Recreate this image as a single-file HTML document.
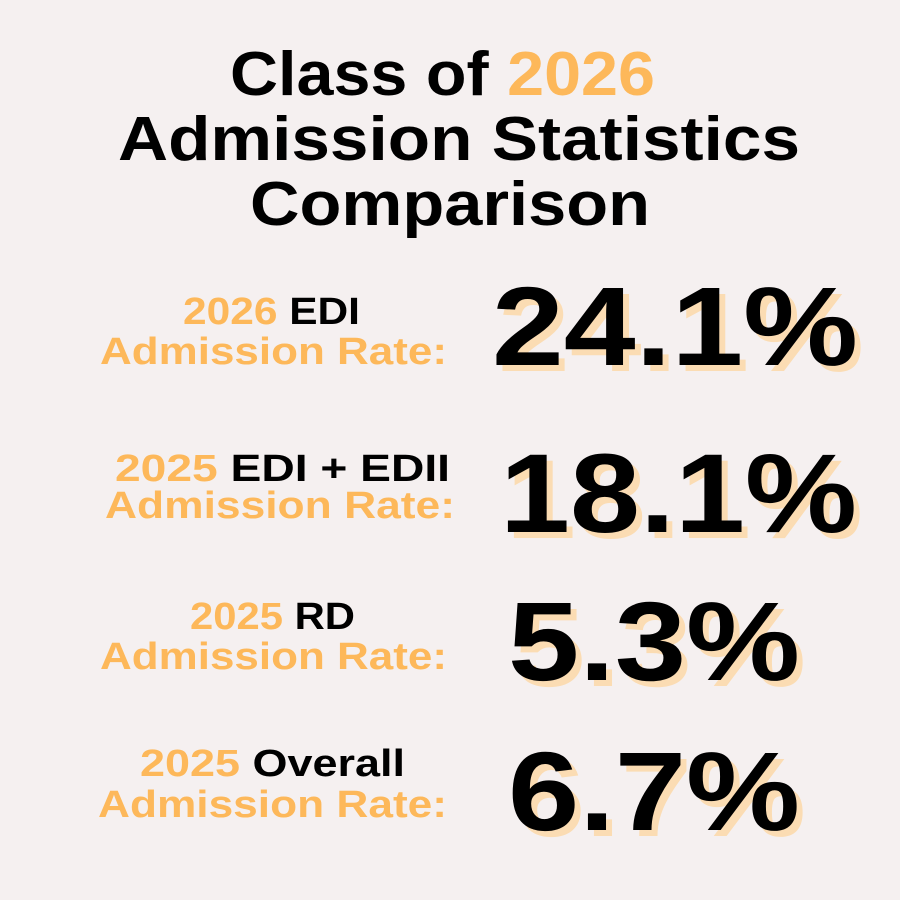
<!DOCTYPE html>
<html><head><meta charset="utf-8"><style>
html,body{margin:0;padding:0;background:#f5f0f0;}
svg{display:block;font-family:"Liberation Sans",sans-serif;font-weight:bold;}
.o{fill:#fdb85a}.k{fill:#000}.s{fill:#fbdcb3}
</style></head><body>
<svg width="900" height="900" viewBox="0 0 900 900">
<rect width="900" height="900" fill="#f5f0f0"/>
<g font-size="62">
<text x="230" y="95" textLength="425" lengthAdjust="spacingAndGlyphs"><tspan class="k">Class of </tspan><tspan class="o">2026</tspan></text>
<text x="118" y="160" textLength="682" lengthAdjust="spacingAndGlyphs" class="k">Admission Statistics</text>
<text x="250" y="225" textLength="400" lengthAdjust="spacingAndGlyphs" class="k">Comparison</text>
</g>
<g font-size="38">
<text x="183" y="324" textLength="177" lengthAdjust="spacingAndGlyphs"><tspan class="o">2026 </tspan><tspan class="k">EDI</tspan></text>
<text x="100" y="364" textLength="347" lengthAdjust="spacingAndGlyphs" class="o">Admission Rate:</text>
<text x="115" y="481" textLength="335" lengthAdjust="spacingAndGlyphs"><tspan class="o">2025 </tspan><tspan class="k">EDI + EDII</tspan></text>
<text x="105" y="518" textLength="350" lengthAdjust="spacingAndGlyphs" class="o">Admission Rate:</text>
<text x="190" y="629" textLength="165" lengthAdjust="spacingAndGlyphs"><tspan class="o">2025 </tspan><tspan class="k">RD</tspan></text>
<text x="100" y="669" textLength="347" lengthAdjust="spacingAndGlyphs" class="o">Admission Rate:</text>
<text x="140" y="776" textLength="265" lengthAdjust="spacingAndGlyphs"><tspan class="o">2025 </tspan><tspan class="k">Overall</tspan></text>
<text x="98" y="817" textLength="349" lengthAdjust="spacingAndGlyphs" class="o">Admission Rate:</text>
</g>
<g font-size="112">
<text x="498" y="371" textLength="366" lengthAdjust="spacingAndGlyphs" class="s">24.1%</text>
<text x="492" y="365" textLength="366" lengthAdjust="spacingAndGlyphs" class="k">24.1%</text>
<text x="506" y="538" textLength="357" lengthAdjust="spacingAndGlyphs" class="s">18.1%</text>
<text x="500" y="532" textLength="357" lengthAdjust="spacingAndGlyphs" class="k">18.1%</text>
<text x="514" y="686" textLength="292" lengthAdjust="spacingAndGlyphs" class="s">5.3%</text>
<text x="508" y="680" textLength="292" lengthAdjust="spacingAndGlyphs" class="k">5.3%</text>
<text x="514" y="836" textLength="292" lengthAdjust="spacingAndGlyphs" class="s">6.7%</text>
<text x="508" y="830" textLength="292" lengthAdjust="spacingAndGlyphs" class="k">6.7%</text>
</g>
</svg>
</body></html>
